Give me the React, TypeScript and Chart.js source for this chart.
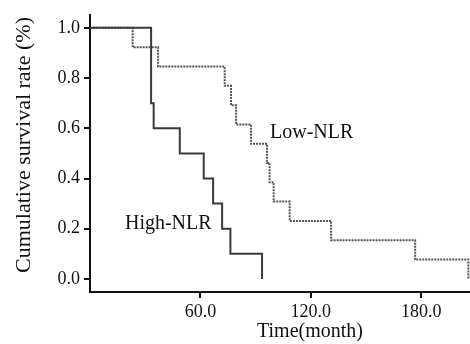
import React, { useEffect, useRef } from "react";
import { Chart, registerables } from "chart.js";

Chart.register(...registerables);

// Kaplan-Meier steps: time (months) and survival after the event at that time
const lowTimes = [0, 23.2, 37.0, 73.2, 76.6, 79.4, 87.5, 96.2, 97.6, 99.8, 108.5, 131.0, 176.7, 205.6];
const lowSurvival = [1.0, 0.923, 0.846, 0.769, 0.692, 0.615, 0.538, 0.462, 0.385, 0.308, 0.231, 0.154, 0.077, 0.0];
const highTimes = [0, 33.2, 34.6, 48.8, 61.8, 66.9, 71.8, 76.3, 93.5];
const highSurvival = [1.0, 0.7, 0.6, 0.5, 0.4, 0.3, 0.2, 0.1, 0.0];

const xTickValues = [60, 120, 180];
const yTickValues = [0, 0.2, 0.4, 0.6, 0.8, 1.0];
const xTitle = "Time(month)";
const yTitle = "Cumulative survival rate (%)";
const lowLabel = "Low-NLR";
const highLabel = "High-NLR";

const FONT = "'Liberation Serif', 'Times New Roman', Times, serif";

export default function App() {
  const ref = useRef<HTMLCanvasElement | null>(null);

  useEffect(() => {
    if (!ref.current) return;
    const textPlugin = {
      id: "kmTexts",
      afterDraw(chart: any) {
        const { ctx, scales } = chart;
        const x = scales.x;
        const y = scales.y;
        ctx.save();
        ctx.fillStyle = "#111";
        ctx.font = `20px ${FONT}`;
        ctx.textAlign = "left";
        ctx.textBaseline = "alphabetic";
        ctx.fillText(lowLabel, x.getPixelForValue(97.8), y.getPixelForValue(0.56));
        ctx.fillText(highLabel, x.getPixelForValue(19.0), y.getPixelForValue(0.2));
        ctx.textAlign = "center";
        ctx.fillText(xTitle, 310, 337);
        ctx.translate(30, 145);
        ctx.rotate(-Math.PI / 2);
        ctx.font = `22px ${FONT}`;
        ctx.fillText(yTitle, 0, 0);
        ctx.restore();
      },
    };

    const chart = new Chart(ref.current, {
      type: "line",
      data: {
        datasets: [
          {
            label: highLabel,
            data: highTimes.map((t, i) => ({ x: t, y: highSurvival[i] })),
            borderColor: "#3a3a3a",
            borderWidth: 2,
            stepped: "before",
            pointRadius: 0,
            fill: false,
          },
          {
            label: lowLabel,
            data: lowTimes.map((t, i) => ({ x: t, y: lowSurvival[i] })),
            borderColor: "#555",
            borderWidth: 2,
            borderDash: [2, 1],
            stepped: "before",
            pointRadius: 0,
            fill: false,
          },
        ],
      },
      options: {
        responsive: false,
        animation: false,
        layout: { padding: { top: 7, right: 0, left: 0, bottom: 0 } },
        plugins: {
          legend: { display: false },
          tooltip: { enabled: false },
        },
        scales: {
          x: {
            type: "linear",
            min: 0,
            max: 206.5,
            afterBuildTicks: (s: any) => {
              s.ticks = xTickValues.map((v) => ({ value: v }));
            },
            afterFit: (s: any) => {
              s.height = 52;
            },
            ticks: {
              color: "#111",
              font: { family: FONT, size: 18 },
              padding: 3,
              maxRotation: 0,
              callback: (v: any) => Number(v).toFixed(1),
            },
            grid: {
              drawOnChartArea: false,
              drawTicks: true,
              tickLength: 6,
              color: "#111",
              lineWidth: 2,
            },
            border: { display: true, color: "#111", width: 2 },
          },
          y: {
            type: "linear",
            min: -0.052,
            max: 1.052,
            afterBuildTicks: (s: any) => {
              s.ticks = yTickValues.map((v) => ({ value: v }));
            },
            afterFit: (s: any) => {
              s.width = 90;
            },
            ticks: {
              color: "#111",
              font: { family: FONT, size: 18 },
              padding: 4,
              callback: (v: any) => Number(v).toFixed(1),
            },
            grid: {
              drawOnChartArea: false,
              drawTicks: true,
              tickLength: 6,
              color: "#111",
              lineWidth: 2,
            },
            border: { display: true, color: "#111", width: 2 },
          },
        },
      },
      plugins: [textPlugin],
    });
    return () => chart.destroy();
  }, []);

  return (
    <div style={{ position: "fixed", left: 0, top: 0, width: 470, height: 344, background: "#fff" }}>
      <canvas ref={ref} width={470} height={344} />
    </div>
  );
}
